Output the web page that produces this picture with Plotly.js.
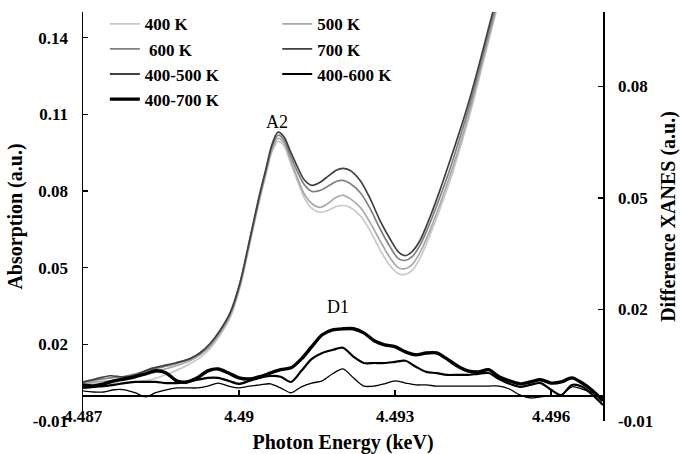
<!DOCTYPE html>
<html>
<head>
<meta charset="utf-8">
<script src="https://cdn.plot.ly/plotly-3.0.1.min.js"></script>
<style>html,body{margin:0;padding:0;background:#fff;}#chart{width:680px;height:454px;}</style>
</head>
<body>
<div id="chart"></div>
<script>
// Absorption spectra (left axis)
const energyAbs = [4.48700,4.48725,4.48752,4.48777,4.48802,4.48829,4.48854,4.48879,4.48906,4.48925,4.48944,4.48963,4.48983,4.49002,4.49021,4.49040,4.49052,4.49063,4.49075,4.49087,4.49098,4.49112,4.49125,4.49140,4.49156,4.49171,4.49187,4.49200,4.49213,4.49233,4.49252,4.49271,4.49290,4.49306,4.49319,4.49333,4.49348,4.49367,4.49387,4.49406,4.49425,4.49444,4.49463,4.49483,4.49502];
const abs400K = [0.0042,0.0046,0.0046,0.0050,0.0053,0.0061,0.0077,0.0097,0.0124,0.0148,0.0183,0.0234,0.0304,0.0422,0.0594,0.0767,0.0865,0.0951,0.0994,0.0975,0.0916,0.0841,0.0775,0.0732,0.0716,0.0724,0.0739,0.0743,0.0736,0.0704,0.0645,0.0571,0.0508,0.0477,0.0473,0.0489,0.0536,0.0626,0.0732,0.0841,0.0967,0.1100,0.1249,0.1410,0.1559];
const abs500K = [0.0046,0.0053,0.0057,0.0065,0.0073,0.0085,0.0101,0.0116,0.0136,0.0159,0.0191,0.0242,0.0312,0.0430,0.0602,0.0775,0.0873,0.0959,0.1006,0.0986,0.0928,0.0853,0.0790,0.0751,0.0736,0.0751,0.0775,0.0783,0.0771,0.0736,0.0677,0.0606,0.0540,0.0500,0.0496,0.0512,0.0559,0.0645,0.0751,0.0861,0.0983,0.1116,0.1265,0.1422,0.1571];
const abs600K = [0.0050,0.0061,0.0069,0.0073,0.0085,0.0101,0.0112,0.0124,0.0144,0.0163,0.0199,0.0249,0.0320,0.0438,0.0610,0.0783,0.0881,0.0971,0.1018,0.0998,0.0943,0.0877,0.0826,0.0798,0.0802,0.0818,0.0837,0.0841,0.0830,0.0794,0.0732,0.0653,0.0583,0.0536,0.0528,0.0543,0.0587,0.0673,0.0779,0.0888,0.1010,0.1139,0.1284,0.1441,0.1586];
const abs700K = [0.0053,0.0065,0.0077,0.0073,0.0081,0.0104,0.0116,0.0128,0.0144,0.0167,0.0202,0.0253,0.0324,0.0442,0.0614,0.0790,0.0888,0.0979,0.1030,0.1010,0.0959,0.0896,0.0845,0.0822,0.0834,0.0857,0.0881,0.0888,0.0881,0.0841,0.0771,0.0685,0.0614,0.0563,0.0547,0.0563,0.0606,0.0696,0.0806,0.0920,0.1037,0.1163,0.1304,0.1461,0.1606];

// Difference XANES (right axis)
const energyDiff = [4.4870,4.4872,4.4874,4.4876,4.4878,4.4880,4.4882,4.4884,4.4886,4.4888,4.4890,4.4892,4.4894,4.4896,4.4898,4.4900,4.4902,4.4904,4.4906,4.4908,4.4910,4.4912,4.4914,4.4916,4.4918,4.4920,4.4922,4.4924,4.4926,4.4928,4.4930,4.4932,4.4934,4.4936,4.4938,4.4940,4.4942,4.4944,4.4946,4.4948,4.4950,4.4952,4.4954,4.4956,4.4958,4.4960,4.4962,4.4964,4.4966,4.4968,4.4970];
const diff400_500 = [-0.0019,-0.0022,-0.0022,-0.0016,-0.0016,-0.0024,-0.0035,-0.0024,-0.0016,-0.0011,-0.0011,-0.0011,-0.0006,0.0002,-0.0006,-0.0011,-0.0006,-0.0003,0.0000,-0.0011,-0.0024,-0.0008,0.0002,0.0008,0.0027,0.0040,0.0016,-0.0006,-0.0006,0.0000,0.0008,0.0002,-0.0003,-0.0003,-0.0006,-0.0006,-0.0006,-0.0006,-0.0006,-0.0006,-0.0006,-0.0014,-0.0030,-0.0038,-0.0035,-0.0033,-0.0030,-0.0008,-0.0014,-0.0024,-0.0038];
const diff400_600 = [-0.0011,-0.0008,-0.0006,-0.0003,0.0002,0.0005,0.0005,0.0005,0.0002,0.0002,0.0005,0.0011,0.0016,0.0016,0.0008,0.0000,0.0008,0.0016,0.0021,0.0019,0.0005,0.0035,0.0067,0.0083,0.0091,0.0097,0.0073,0.0056,0.0056,0.0056,0.0059,0.0062,0.0046,0.0032,0.0029,0.0024,0.0024,0.0024,0.0027,0.0029,0.0013,0.0000,-0.0008,-0.0003,0.0002,-0.0016,-0.0030,-0.0003,-0.0008,-0.0030,-0.0057];
const diff400_700 = [-0.0003,-0.0006,0.0000,0.0008,0.0013,0.0019,0.0027,0.0035,0.0029,0.0008,0.0005,0.0016,0.0035,0.0040,0.0029,0.0016,0.0013,0.0019,0.0029,0.0038,0.0043,0.0067,0.0100,0.0132,0.0145,0.0148,0.0148,0.0137,0.0116,0.0105,0.0100,0.0086,0.0078,0.0083,0.0083,0.0067,0.0048,0.0035,0.0032,0.0038,0.0019,0.0008,0.0000,0.0005,0.0011,0.0002,0.0005,0.0016,0.0002,-0.0019,-0.0046];

const xTicks = [4.487, 4.490, 4.493, 4.496];
const xTickText = ['4.487', '4.49', '4.493', '4.496'];
const yTicks = [-0.01, 0.02, 0.05, 0.08, 0.11, 0.14];
const yTickText = ['-0.01', '0.02', '0.05', '0.08', '0.11', '0.14'];
const y2Ticks = [-0.01, 0.02, 0.05, 0.08];
const y2TickText = ['-0.01', '0.02', '0.05', '0.08'];

const SERIF = '"Liberation Serif", "Times New Roman", serif';

function absTrace(name, y, color, legend) {
  return {x: energyAbs, y: y, name: name, type: 'scatter', mode: 'lines', legend: legend,
    line: {color: color, width: 1.7, shape: 'spline', smoothing: 0.8}, yaxis: 'y', xaxis: 'x'};
}
function diffTrace(name, y, width, legend) {
  return {x: energyDiff, y: y, name: name, type: 'scatter', mode: 'lines', legend: legend,
    line: {color: '#000000', width: width, shape: 'spline', smoothing: 0.8}, yaxis: 'y2', xaxis: 'x'};
}

const traces = [
  absTrace('400 K', abs400K, '#c8c8c8', 'legend'),
  absTrace('500 K', abs500K, '#a8a8a8', 'legend2'),
  absTrace('\u00a0600 K', abs600K, '#808080', 'legend'),
  absTrace('700 K', abs700K, '#404040', 'legend2'),
  diffTrace('400-500 K', diff400_500, 1.3, 'legend'),
  diffTrace('400-600 K', diff400_600, 2.2, 'legend2'),
  diffTrace('400-700 K', diff400_700, 3.4, 'legend')
];

const tickFont = {family: SERIF, size: 17, color: '#000', weight: 'bold'};
const legFont = {family: SERIF, size: 17, color: '#000', weight: 'bold'};
const titleFont = {family: SERIF, size: 20, color: '#000', weight: 'bold'};

const layout = {
  width: 680, height: 454,
  margin: {l: 83, r: 77, t: 12, b: 33, autoexpand: false},
  paper_bgcolor: '#fff', plot_bgcolor: '#fff',
  font: {family: SERIF, color: '#000'},
  showlegend: true,
  legend: {x: 0.042, y: 1.014, xanchor: 'left', yanchor: 'top', bgcolor: 'rgba(0,0,0,0)', font: legFont, tracegroupgap: 0, itemwidth: 30},
  legend2: {x: 0.3735, y: 1.014, xanchor: 'left', yanchor: 'top', bgcolor: 'rgba(0,0,0,0)', font: legFont, tracegroupgap: 0, itemwidth: 30},
  xaxis: {
    range: [4.487, 4.497], anchor: 'free', position: 0.0625,
    showline: true, linecolor: '#000', linewidth: 1.5,
    ticks: 'inside', ticklen: 5, tickwidth: 1.5, tickcolor: '#000',
    tickvals: xTicks, ticktext: xTickText, tickfont: tickFont, ticklabelstandoff: 5,
    showgrid: false, zeroline: false,
    title: {text: 'Photon Energy (keV)', font: titleFont, standoff: 11}
  },
  yaxis: {
    range: [-0.01, 0.15],
    showline: true, linecolor: '#000', linewidth: 1.5,
    ticks: 'inside', ticklen: 5, tickwidth: 1.5, tickcolor: '#000',
    tickvals: yTicks, ticktext: yTickText, tickfont: tickFont, ticklabelstandoff: 10,
    showgrid: false, zeroline: false,
    title: {text: 'Absorption (a.u.)', font: titleFont, standoff: 4}
  },
  yaxis2: {
    range: [-0.01, 0.10], overlaying: 'y', side: 'right', anchor: 'free', position: 1,
    showline: true, linecolor: '#000', linewidth: 1.5,
    ticks: 'inside', ticklen: 5, tickwidth: 1.5, tickcolor: '#000',
    tickvals: y2Ticks, ticktext: y2TickText, tickfont: tickFont, ticklabelstandoff: 10,
    showgrid: false, zeroline: false,
    title: {text: 'Difference XANES (a.u.)', font: titleFont, standoff: 12}
  },
  annotations: [
    {x: 4.49073, y: 0.1068, xref: 'x', yref: 'y', text: 'A2', showarrow: false, font: {family: SERIF, size: 18, color: '#000'}},
    {x: 4.4919, y: 0.0345, xref: 'x', yref: 'y', text: 'D1', showarrow: false, font: {family: SERIF, size: 18, color: '#000'}}
  ]
};

Plotly.newPlot('chart', traces, layout, {displayModeBar: false, staticPlot: true});
</script>
</body>
</html>
